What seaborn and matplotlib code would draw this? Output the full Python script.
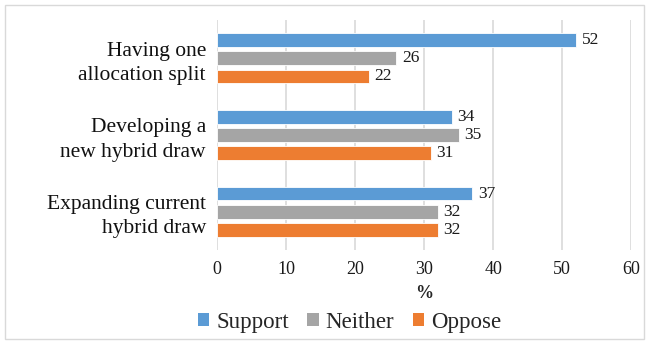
import matplotlib
matplotlib.use("Agg")
import matplotlib.pyplot as plt
from matplotlib.patches import Rectangle, Patch
import pandas as pd
import seaborn as sns

# Survey results (% of respondents)
items = ["Having one\nallocation split",
         "Developing a\nnew hybrid draw",
         "Expanding current\nhybrid draw"]
responses = ["Support", "Neither", "Oppose"]
support = [52, 34, 37]
neither = [26, 35, 32]
oppose = [22, 31, 32]
x_ticks = [0, 10, 20, 30, 40, 50, 60]
colors = ["#5B9BD5", "#A5A5A5", "#ED7D31"]

rows = []
for resp, vals in zip(responses, [support, neither, oppose]):
    for item, v in zip(items, vals):
        rows.append({"item": item, "response": resp, "pct": v})
df = pd.DataFrame(rows)

sns.set_theme(style="white")
plt.rcParams["font.family"] = ["Liberation Serif", "DejaVu Serif"]

fig = plt.figure(figsize=(6.46, 3.43), dpi=100)
ax = fig.add_axes([0.336, 0.271, 0.641, 0.671])

sns.barplot(data=df, y="item", x="pct", hue="response", order=items,
            hue_order=responses, palette=colors, saturation=1, orient="h",
            width=0.71, gap=0.24, ax=ax, legend=False,
            edgecolor="white", linewidth=0.6)

for cont in ax.containers:
    ax.bar_label(cont, labels=[f"{v:.0f}" for v in cont.datavalues],
                 padding=4, fontsize=12.5, color="#1a1a1a",
                 family="Liberation Serif")

ax.set_xlim(0, 60)
ax.set_ylim(2.5, -0.5)
ax.set_xticks(x_ticks)
ax.set_xticklabels([str(t) for t in x_ticks], fontsize=13, color="#1a1a1a",
                   family="Liberation Serif")
ax.set_yticks(range(len(items)))
ax.set_yticklabels(items, fontsize=15.5, color="#111111",
                   family="Liberation Serif", linespacing=1.36)
ax.tick_params(axis="y", length=0, pad=8)
ax.tick_params(axis="x", length=0, pad=8)
ax.set_ylabel("")
ax.set_xlabel("%", fontsize=13, fontweight="bold", labelpad=5,
              family="Liberation Serif")
ax.xaxis.grid(True, color="#D9D9D9", linewidth=1.2)
ax.set_axisbelow(True)
for s in ax.spines.values():
    s.set_visible(False)

handles = [Patch(facecolor=c, edgecolor="none") for c in colors]
fig.legend(handles, responses, loc="center", bbox_to_anchor=(0.541, 0.061),
           ncol=3, frameon=False, handlelength=0.5,
           handleheight=0.5, handletextpad=0.3, columnspacing=0.8,
           prop={"family": "Liberation Serif", "size": 16.5})

fig.patches.append(Rectangle((5 / 646, 4 / 343), 639 / 646, 334 / 343,
                             transform=fig.transFigure, fill=False,
                             edgecolor="#D9D9D9", linewidth=1.0))

fig.savefig("out.png", dpi=100)
